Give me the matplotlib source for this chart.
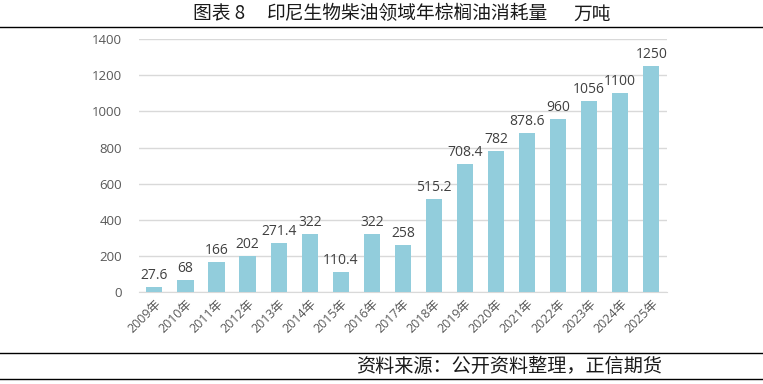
import matplotlib
matplotlib.use("Agg")
import matplotlib.pyplot as plt
from matplotlib.lines import Line2D

plt.rcParams['font.family'] = ['Open Sans', 'Noto Sans CJK SC', 'DejaVu Sans']

years = [f"{y}年" for y in range(2009, 2026)]
values = [27.6, 68, 166, 202, 271.4, 322, 110.4, 322, 258, 515.2,
          708.4, 782, 878.6, 960, 1056, 1100, 1250]
labels = ["27.6", "68", "166", "202", "271.4", "322", "110.4", "322", "258", "515.2",
          "708.4", "782", "878.6", "960", "1056", "1100", "1250"]

W, H = 763, 384
fig = plt.figure(figsize=(W / 100, H / 100), dpi=100)
ax = fig.add_axes([0.182, 0.2396, 0.692, 0.6584])

x = range(len(values))
ax.bar(x, values, width=0.52, color="#92CDDC", zorder=3)
for xi, v, s in zip(x, values, labels):
    ax.text(xi, v + 22, s, ha="center", va="bottom", fontsize=10, color="#404040")

ax.set_xlim(-0.5, len(values) - 0.5)
ax.set_ylim(0, 1400)
ax.set_yticks(range(0, 1401, 200))
ax.yaxis.grid(True, color="#D9D9D9", lw=1, zorder=0)
ax.set_xticks(list(x))
ax.set_xticklabels(years, rotation=45, ha="right", va="top", rotation_mode="anchor",
                   fontsize=9, color="#595959")
ax.tick_params(axis="y", labelsize=9.5, labelcolor="#595959", length=0, pad=12)
ax.tick_params(axis="x", length=0, pad=4)
for side in ["top", "right", "left"]:
    ax.spines[side].set_visible(False)
ax.spines["bottom"].set_color("#D9D9D9")

cjk = ['Noto Sans CJK SC', 'DejaVu Sans']
# title in three pieces, placed by pixel to keep the wide gaps
for px, s in [(193, "图表 8"), (267, "印尼生物柴油领域年棕榈油消耗量"), (573, "万吨")]:
    fig.text(px / W, 1 - 14 / H, s, ha="left", va="center", fontsize=13.5,
             color="#1a1a1a", family=cjk, fontweight="light")
fig.text(662 / W, 1 - 366 / H, "资料来源：公开资料整理，正信期货",
         ha="right", va="center", fontsize=13.8, color="#1a1a1a", family=cjk,
         fontweight="light")
for yy in [1 - 27 / H, 1 - 353 / H, 1 - 379 / H]:
    fig.add_artist(Line2D([0, 1], [yy, yy], color="black", lw=1, transform=fig.transFigure))

fig.savefig("out.png", dpi=100)
